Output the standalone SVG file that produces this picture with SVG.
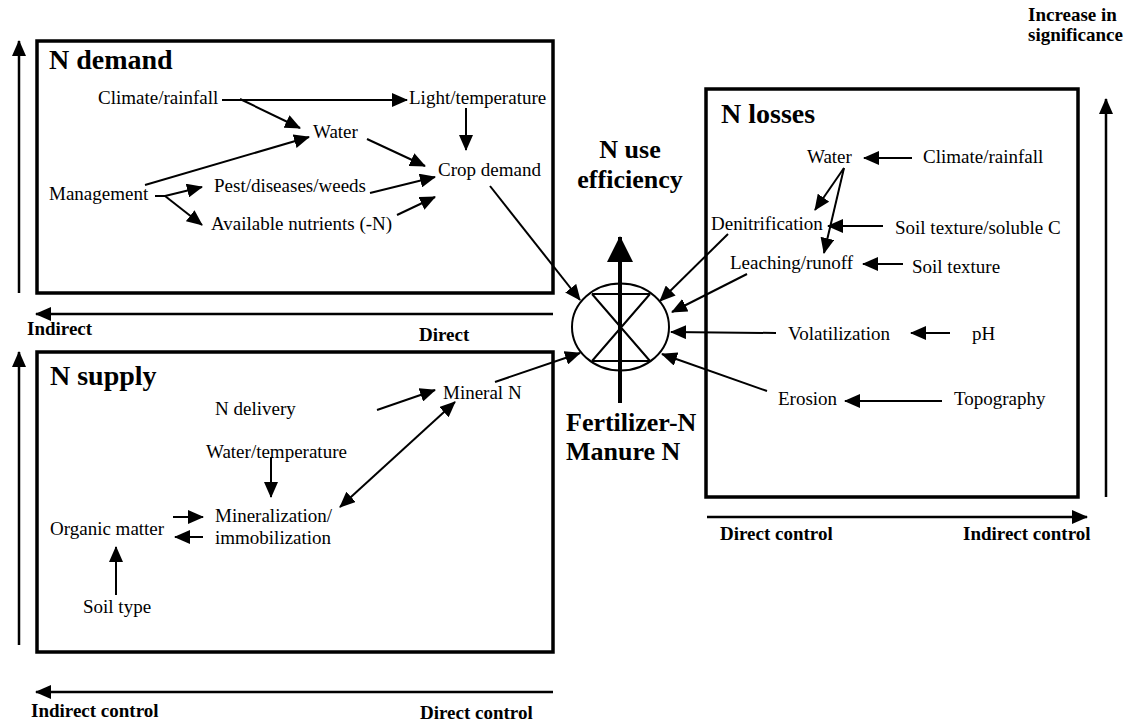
<svg xmlns="http://www.w3.org/2000/svg" width="1136" height="724" viewBox="0 0 1136 724">
<style>
text{font-family:"Liberation Serif","Times New Roman",serif;fill:#000}
.t{font-size:19px}
.h{font-size:28px;font-weight:bold}
.c{font-size:26px;font-weight:bold}
.b{font-size:19px;font-weight:bold}
.box{fill:#fff;stroke:#000;stroke-width:3.5}
.l{stroke:#000;stroke-width:2;fill:none;marker-end:url(#ah)}
.ax{stroke:#000;stroke-width:2.5;fill:none;marker-end:url(#ah)}
</style>
<defs>
<marker id="ah" markerUnits="userSpaceOnUse" markerWidth="16" markerHeight="14" refX="15" refY="7" orient="auto">
<path d="M0,0 L16,7 L0,14 z" fill="#000"/>
</marker>
<marker id="ahs" markerUnits="userSpaceOnUse" markerWidth="16" markerHeight="14" refX="15" refY="7" orient="auto-start-reverse">
<path d="M0,0 L16,7 L0,14 z" fill="#000"/>
</marker>
<marker id="big" markerUnits="userSpaceOnUse" markerWidth="26" markerHeight="26" refX="25" refY="13" orient="auto">
<path d="M0,0 L26,13 L0,26 z" fill="#000"/>
</marker>
</defs>
<rect width="1136" height="724" fill="#fff"/>

<g id="axes">
<line class="ax" x1="19" y1="293" x2="19" y2="41"/>
<line class="ax" x1="19" y1="645" x2="19" y2="352"/>
<line class="ax" x1="553" y1="314" x2="36" y2="314"/>
<line class="ax" x1="553" y1="692" x2="36" y2="692"/>
<line class="ax" x1="707" y1="517" x2="1087" y2="517"/>
<line class="ax" x1="1106" y1="497" x2="1106" y2="99"/>
<text class="b" x="27" y="335">Indirect</text>
<text class="b" x="419" y="341">Direct</text>
<text class="b" x="31" y="717">Indirect control</text>
<text class="b" x="420" y="719">Direct control</text>
<text class="b" x="720" y="540">Direct control</text>
<text class="b" x="963" y="540">Indirect control</text>
<text class="b" x="1028" y="21">Increase in</text>
<text class="b" x="1028" y="41">significance</text>
</g>

<g id="n-demand">
<rect class="box" x="37" y="41" width="516" height="252"/>
<text class="h" x="49" y="69">N demand</text>
<text class="t" x="98" y="104">Climate/rainfall</text>
<text class="t" x="409" y="104">Light/temperature</text>
<text class="t" x="313" y="138">Water</text>
<text class="t" x="49" y="200">Management</text>
<text class="t" x="214" y="192">Pest/diseases/weeds</text>
<text class="t" x="211" y="230">Available nutrients (-N)</text>
<text class="t" x="438" y="176">Crop demand</text>
</g>

<g id="n-supply">
<rect class="box" x="37" y="352" width="516" height="300"/>
<text class="h" x="50" y="385">N supply</text>
<text class="t" x="443" y="399">Mineral N</text>
<text class="t" x="215" y="415">N delivery</text>
<text class="t" x="206" y="458">Water/temperature</text>
<text class="t" x="215" y="522">Mineralization/</text>
<text class="t" x="215" y="544">immobilization</text>
<text class="t" x="50" y="535">Organic matter</text>
<text class="t" x="83" y="613">Soil type</text>
</g>

<g id="n-losses">
<rect class="box" x="706" y="89" width="372" height="408"/>
<text class="h" x="721" y="123">N losses</text>
<text class="t" x="807" y="163">Water</text>
<text class="t" x="923" y="163">Climate/rainfall</text>
<text class="t" x="711" y="230">Denitrification</text>
<text class="t" x="895" y="234">Soil texture/soluble C</text>
<text class="t" x="730" y="269">Leaching/runoff</text>
<text class="t" x="912" y="273">Soil texture</text>
<text class="t" x="788" y="340">Volatilization</text>
<text class="t" x="972" y="340">pH</text>
<text class="t" x="778" y="405">Erosion</text>
<text class="t" x="954" y="405">Topography</text>
</g>

<g id="nue">
<text class="c" x="630" y="158" text-anchor="middle">N use</text>
<text class="c" x="630" y="188" text-anchor="middle">efficiency</text>
<ellipse cx="620.5" cy="327" rx="48.5" ry="43.5" fill="#fff" stroke="#000" stroke-width="2"/>
<path d="M592,294 L650,294 M592,361 L650,361 M592,294 L650,361 M650,294 L592,361" stroke="#000" stroke-width="2" fill="none"/>
<line x1="620" y1="403" x2="620" y2="237" stroke="#000" stroke-width="4" marker-end="url(#big)"/>
<text class="c" x="566" y="431">Fertilizer-N</text>
<text class="c" x="566" y="460">Manure N</text>
</g>

<g id="connectors">
<line class="l" x1="222" y1="100" x2="407" y2="100"/>
<line class="l" x1="240" y1="99" x2="300" y2="128"/>
<line class="l" x1="145" y1="185" x2="309" y2="137"/>
<polyline points="155,196 165,196" stroke="#000" stroke-width="2" fill="none"/>
<line class="l" x1="165" y1="196" x2="202" y2="187"/>
<line class="l" x1="165" y1="196" x2="202" y2="225"/>
<line class="l" x1="367" y1="139" x2="425" y2="166"/>
<line class="l" x1="370" y1="193" x2="435" y2="177"/>
<line class="l" x1="397" y1="215" x2="435" y2="197"/>
<line class="l" x1="466" y1="108" x2="466" y2="150"/>
<line class="l" x1="490" y1="186" x2="580" y2="300"/>

<line class="l" x1="377" y1="410" x2="435" y2="390"/>
<line class="l" x1="271" y1="457" x2="271" y2="497" />
<line x1="340" y1="507" x2="455" y2="402" stroke="#000" stroke-width="2" marker-start="url(#ahs)" marker-end="url(#ahs)"/>
<line class="l" x1="173" y1="517" x2="203" y2="517"/>
<line class="l" x1="203" y1="537" x2="175" y2="537"/>
<line class="l" x1="116" y1="595" x2="116" y2="547"/>
<line class="l" x1="495" y1="382" x2="580" y2="353"/>

<line class="l" x1="912" y1="158" x2="864" y2="158"/>
<line class="l" x1="844" y1="168" x2="815" y2="210"/>
<line class="l" x1="844" y1="168" x2="824" y2="253"/>
<line class="l" x1="883" y1="226" x2="828" y2="226"/>
<line class="l" x1="903" y1="264" x2="863" y2="264"/>
<line class="l" x1="950" y1="333" x2="911" y2="333"/>
<line class="l" x1="942" y1="401" x2="845" y2="401"/>
<line class="l" x1="728" y1="234" x2="660" y2="301"/>
<line class="l" x1="747" y1="274" x2="672" y2="312"/>
<line class="l" x1="776" y1="333" x2="671" y2="332"/>
<line class="l" x1="767" y1="391" x2="662" y2="354"/>
</g>
</svg>
